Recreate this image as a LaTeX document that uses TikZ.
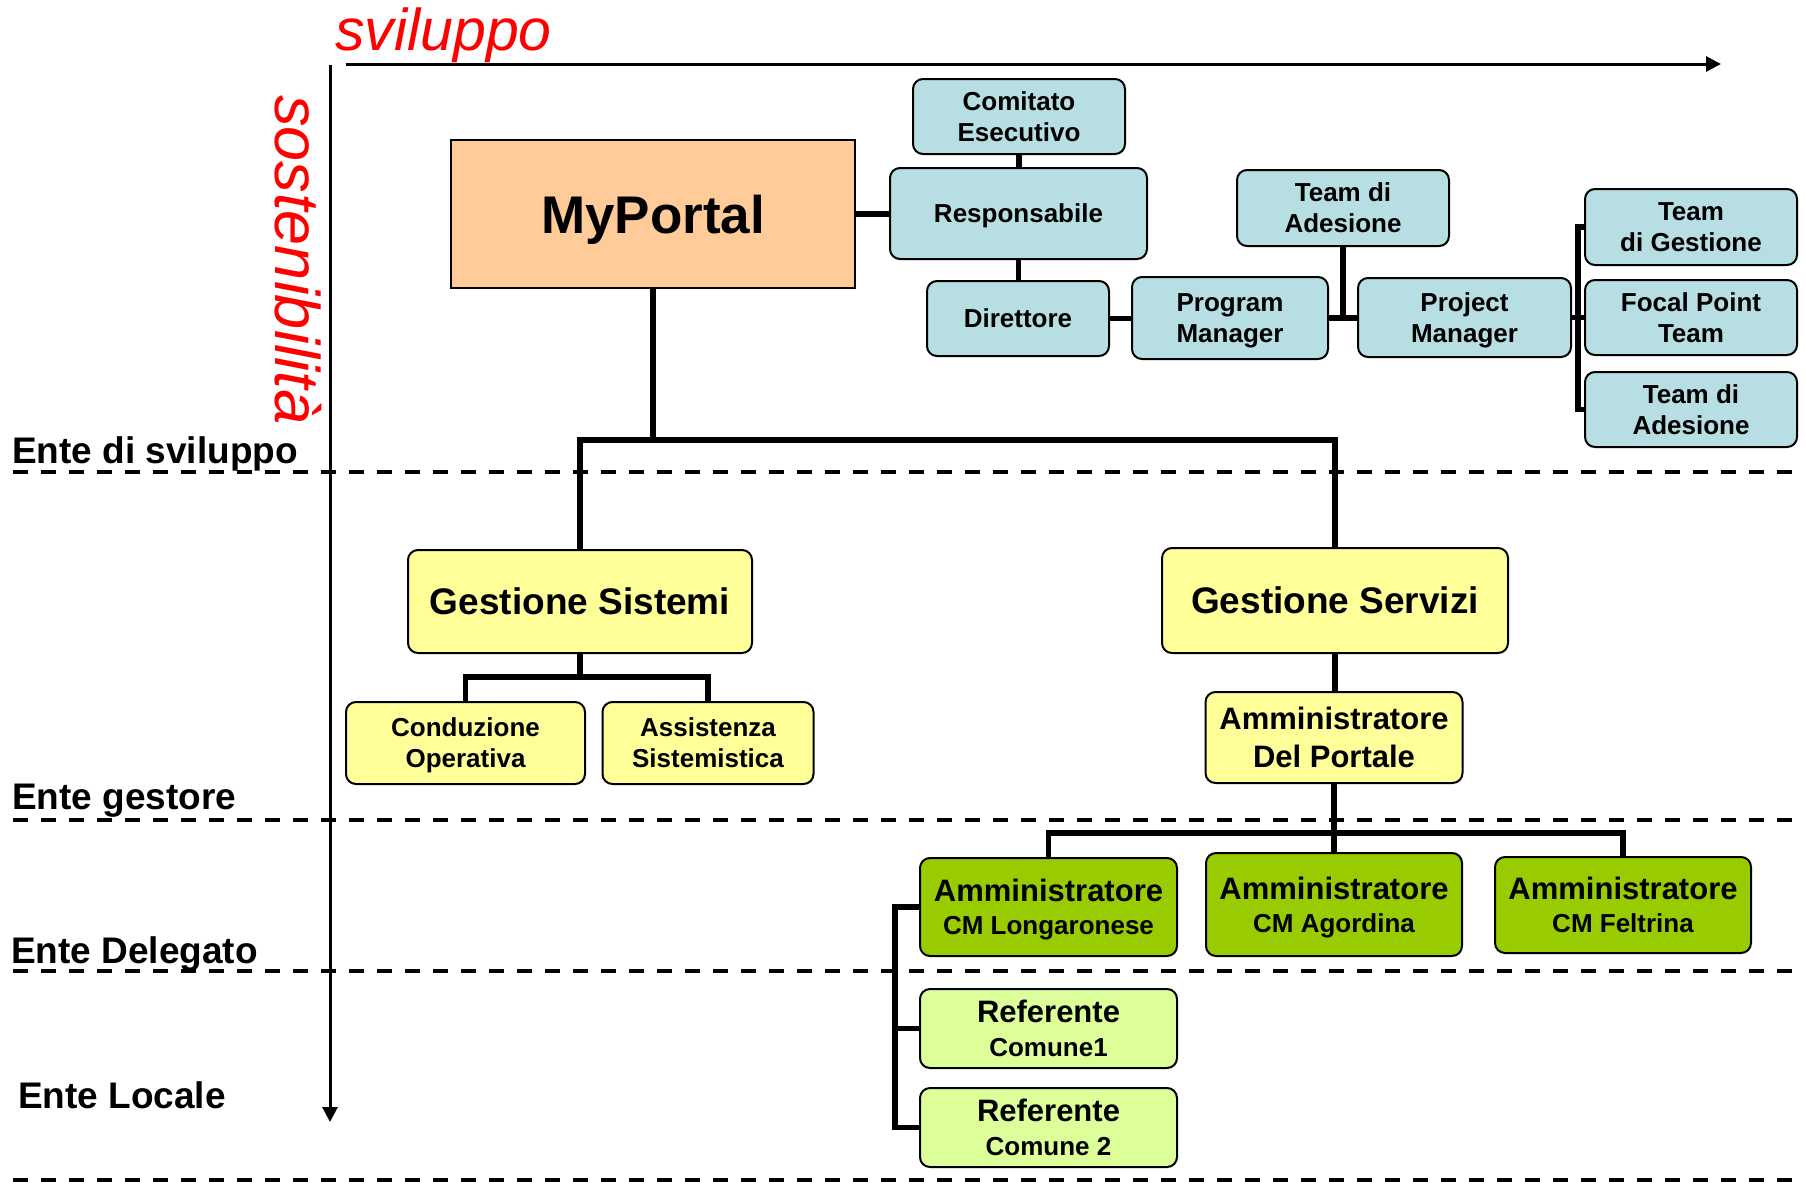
\documentclass[tikz,border=0pt]{standalone}
\usepackage{fontspec}
\setmainfont{Liberation Sans}
\usetikzlibrary{arrows.meta}
\definecolor{tealfill}{RGB}{183,222,226}
\definecolor{orangefill}{RGB}{255,204,153}
\definecolor{yellowfill}{RGB}{255,255,153}
\definecolor{greenfill}{RGB}{153,204,0}
\definecolor{lightgreenfill}{RGB}{221,255,153}
\definecolor{redtext}{RGB}{255,0,0}
\begin{document}
\begin{tikzpicture}[x=1pt,y=-1pt,
  box/.style={draw, line width=2pt, rounded corners=10pt, align=center, inner sep=0pt, text depth=0pt,
    font=\bfseries\fontsize{26}{31}\selectfont},
  sz/.style 2 args={minimum width=#1pt, minimum height=#2pt},
  tealbox/.style={box, fill=tealfill},
  yellowbox/.style={box, fill=yellowfill},
  greenbox/.style={box, fill=greenfill, font=\bfseries\fontsize{26}{33}\selectfont},
  lgreenbox/.style={box, fill=lightgreenfill, font=\bfseries\fontsize{26}{34}\selectfont},
  conn/.style={line width=5.5pt},
  axis/.style={line width=3pt, -{Triangle[length=15pt,width=15pt]}},
  sep/.style={line width=4pt, dash pattern=on 15pt off 13pt},
  level/.style={font=\bfseries\fontsize{37}{40}\selectfont, anchor=base west, inner sep=0pt},
  redlabel/.style={text=redtext, font=\itshape\fontsize{59}{62}\selectfont, inner sep=0pt}
]
\useasboundingbox (0,0) rectangle (1806,1183);
\fill[white] (0,0) rectangle (1806,1183);

% separators
\coordinate (s1a) at (13,472); \coordinate (s1b) at (1800,472);
\coordinate (s2a) at (13,820); \coordinate (s2b) at (1800,820);
\coordinate (s3a) at (13,971); \coordinate (s3b) at (1800,971);
\coordinate (s4a) at (13,1180); \coordinate (s4b) at (1800,1180);
\draw[sep] (s1a) -- (s1b);
\draw[sep] (s2a) -- (s2b);
\draw[sep] (s3a) -- (s3b);
\draw[sep] (s4a) -- (s4b);

% level labels
\node[level] (l1) at (12,463) {Ente di sviluppo};
\node[level] (l2) at (12,809) {Ente gestore};
\node[level] (l3) at (11,963) {Ente Delegato};
\node[level] (l4) at (18,1108) {Ente Locale};

% axes
\coordinate (hx0) at (346,64); \coordinate (hx1) at (1721,64);
\coordinate (vx0) at (330,65); \coordinate (vx1) at (330,1122);
\draw[axis] (hx0) -- (hx1);
\draw[axis] (vx0) -- (vx1);
\node[redlabel, anchor=base west] (svil) at (335,50) {sviluppo};
\node[redlabel, rotate=-90, font=\itshape\fontsize{63}{66}\selectfont] (sost) at (298,260) {sostenibilità};

% nodes
\node[draw, line width=2pt, fill=orangefill, minimum width=404pt, minimum height=148pt, text depth=0pt,
  font=\bfseries\fontsize{53}{60}\selectfont, inner sep=0pt] (myportal) at (653,214) {MyPortal};
\node[tealbox, sz={212}{75}] (comitato) at (1019,116.5) {Comitato\\Esecutivo};
\node[tealbox, sz={257}{91}] (resp) at (1018.5,213.5) {Responsabile};
\node[tealbox, sz={182}{75}] (dir) at (1018,318.5) {Direttore};
\node[tealbox, sz={196}{82}] (pm) at (1230,318) {Program\\Manager};
\node[tealbox, sz={212}{76}] (tda) at (1343,208) {Team di\\Adesione};
\node[tealbox, sz={213}{79}] (prj) at (1464.5,317.5) {Project\\Manager};
\node[tealbox, sz={212}{76}] (tdg) at (1691,227) {Team\\di Gestione};
\node[tealbox, sz={212}{75}] (fpt) at (1691,317.5) {Focal Point\\Team};
\node[tealbox, sz={212}{75}] (tda2) at (1691,409.5) {Team di\\Adesione};

\node[yellowbox, sz={344}{103}, font=\bfseries\fontsize{37}{44}\selectfont] (gsist) at (580,601.5) {Gestione Sistemi};
\node[yellowbox, sz={239}{82}] (cond) at (465.5,743) {Conduzione\\Operativa};
\node[yellowbox, sz={211}{82}] (assist) at (708,743) {Assistenza\\Sistemistica};
\node[yellowbox, sz={346}{105}, font=\bfseries\fontsize{37}{44}\selectfont] (gserv) at (1335,600.5) {Gestione Servizi};
\node[yellowbox, sz={257}{91}, font=\bfseries\fontsize{31}{38}\selectfont] (adp) at (1334,737.5) {Amministratore\\Del Portale};

\node[greenbox, sz={257}{98}] (cml) at (1048.5,907) {{\fontsize{31}{33}\selectfont Amministratore}\\CM Longaronese};
\node[greenbox, sz={256}{103}] (cma) at (1334,904.5) {{\fontsize{31}{33}\selectfont Amministratore}\\CM Agordina};
\node[greenbox, sz={256}{96}] (cmf) at (1623,905) {{\fontsize{31}{33}\selectfont Amministratore}\\CM Feltrina};
\node[lgreenbox, sz={257}{79}] (ref1) at (1048.5,1028.5) {{\fontsize{31}{34}\selectfont Referente}\\Comune1};
\node[lgreenbox, sz={257}{79}] (ref2) at (1048.5,1127.5) {{\fontsize{31}{34}\selectfont Referente}\\Comune 2};

% connectors
\draw[conn] (myportal.east) -- (myportal.east -| resp.west);
\draw[conn] (comitato.south) -- (comitato.south |- resp.north);
\draw[conn] (resp.south) -- (resp.south |- dir.north);
\draw[conn] (dir.east) -- (dir.east -| pm.west);
\draw[conn] (pm.east) -- (pm.east -| prj.west);
\draw[conn] (tda.south) -- (tda.south |- pm.east);
\coordinate (br) at (1578,317.5);
\draw[conn] (prj.east) -- (br);
\draw[conn] (tdg.west) -- (tdg.west -| br) -- (tda2.west -| br) -- (tda2.west);
\draw[conn] (fpt.west) -- (br);

\coordinate (b1) at (653,440);
\draw[conn] (myportal.south) -- (b1);
\draw[conn] (gsist.north) -- (gsist.north |- b1) -- (gserv.north |- b1) -- (gserv.north);
\coordinate (b2) at (580,677);
\draw[conn] (gsist.south) -- (b2);
\draw[conn] (cond.north) -- (cond.north |- b2) -- (assist.north |- b2) -- (assist.north);
\draw[conn] (gserv.south) -- (gserv.south |- adp.north);
\coordinate (b3) at (1334,833);
\draw[conn] (adp.south) -- (adp.south |- cma.north);
\draw[conn] (cml.north) -- (cml.north |- b3) -- (cmf.north |- b3) -- (cmf.north);
\coordinate (b4) at (895,907);
\draw[conn] (cml.west) -- (b4) -- (b4 |- ref2.west) -- (ref2.west);
\draw[conn] (ref1.west) -- (ref1.west -| b4);
\end{tikzpicture}
\end{document}
